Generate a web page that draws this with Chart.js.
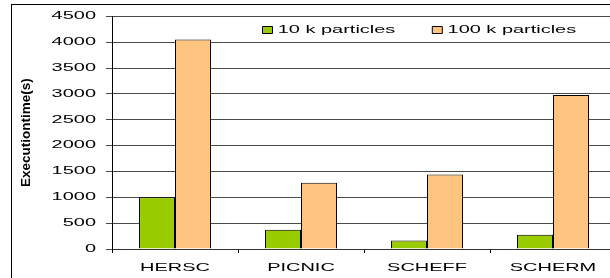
<!DOCTYPE html>
<html>
<head>
<meta charset="utf-8">
<script src="https://cdn.jsdelivr.net/npm/chart.js@4/dist/chart.umd.min.js"></script>
<style>
html, body { margin: 0; padding: 0; background: #fff; overflow: hidden; width: 610px; height: 278px; }
#wrap { position: absolute; left: 0; top: 0; width: 630px; height: 278px; }
</style>
</head>
<body>
<div id="wrap"><canvas id="c"></canvas></div>
<script>
// ---- data ----
const categories = ['HERSC', 'PICNIC', 'SCHEFF', 'SCHERM'];
const seriesNames = ['10 k particles', '100 k particles'];
const particles10k = [1000, 370, 165, 275];
const particles100k = [4050, 1280, 1440, 2980];
const yTickValues = [0, 500, 1000, 1500, 2000, 2500, 3000, 3500, 4000, 4500];
const yTickLabels = ['0', '500', '1000', '1500', '2000', '2500', '3000', '3500', '4000', '4500'];
const yAxisTitle = 'Executiontime(s)';

// ---- look ----
const TEXT_STRETCH = 1.9;     // reference text is horizontally widened
const LEGEND_PAD = 37;
const LEGEND_LEFT = 262.5 - LEGEND_PAD;
const LEGEND_ROW_TOP = 24.75;

Chart.defaults.font.family = '"Liberation Sans", Arial, sans-serif';
Chart.defaults.font.size = 10.5;
Chart.defaults.color = '#000';

const stretchText = {
  id: 'stretchText',
  beforeInit(chart) {
    const ctx = chart.ctx;
    const nativeFill = ctx.fillText.bind(ctx);
    const nativeMeasure = ctx.measureText.bind(ctx);
    ctx.fillText = function (t, x, y, mw) {
      const m = ctx.getTransform();
      if (Math.abs(m.b) > 1e-6 || Math.abs(m.c) > 1e-6) {
        return mw === undefined ? nativeFill(t, x, y) : nativeFill(t, x, y, mw);
      }
      ctx.save();
      ctx.translate(x, y);
      ctx.scale(TEXT_STRETCH, 1);
      if (mw === undefined) nativeFill(t, 0, 0); else nativeFill(t, 0, 0, mw / TEXT_STRETCH);
      ctx.restore();
    };
    ctx.measureText = function (t) {
      const r = nativeMeasure(t);
      return {
        width: r.width * TEXT_STRETCH,
        actualBoundingBoxAscent: r.actualBoundingBoxAscent,
        actualBoundingBoxDescent: r.actualBoundingBoxDescent,
        actualBoundingBoxLeft: r.actualBoundingBoxLeft * TEXT_STRETCH,
        actualBoundingBoxRight: r.actualBoundingBoxRight * TEXT_STRETCH
      };
    };
  }
};

const legendInside = {
  id: 'legendInside',
  beforeLayout(chart) {
    const lg = chart.legend;
    if (lg && !lg._insidePatched) {
      const fit = lg.fit.bind(lg);
      lg.fit = function () { fit(); this.height = 0; };
      lg._insidePatched = true;
    }
  },
  afterLayout(chart) {
    const lg = chart.legend;
    if (!lg) return;
    lg.left = LEGEND_LEFT;
    lg.right = chart.chartArea.right;
    lg.width = lg.right - lg.left;
    lg.top = LEGEND_ROW_TOP - LEGEND_PAD;
    lg.bottom = lg.top + 100;
    lg.height = 100;
  }
};

const outerFrame = {
  id: 'outerFrame',
  beforeDraw(chart) {
    const ctx = chart.ctx;
    ctx.save();
    ctx.strokeStyle = '#000';
    ctx.lineWidth = 1;
    ctx.strokeRect(11.5, 4.5, 800, 400);
    ctx.restore();
  }
};

new Chart(document.getElementById('c'), {
  type: 'bar',
  data: {
    labels: categories,
    datasets: [
      { label: seriesNames[0], data: particles10k, backgroundColor: '#99CC00', borderColor: '#000', borderWidth: 1 },
      { label: seriesNames[1], data: particles100k, backgroundColor: '#FFC47F', borderColor: '#000', borderWidth: 1 }
    ]
  },
  options: {
    responsive: true,
    maintainAspectRatio: false,
    animation: false,
    events: [],
    datasets: { bar: { categoryPercentage: 0.571, barPercentage: 1 } },
    layout: { padding: { top: 15, left: 0, right: 14, bottom: 0 } },
    plugins: {
      legend: {
        position: 'top',
        align: 'start',
        labels: { boxWidth: 10, boxHeight: 7, padding: LEGEND_PAD, color: '#000', font: { size: 10.5 } }
      },
      tooltip: { enabled: false }
    },
    scales: {
      x: {
        grid: { display: true, drawOnChartArea: false, drawTicks: true, tickLength: 4, color: '#000', offset: true },
        border: { display: true, color: '#333', width: 1 },
        ticks: { padding: 9, color: '#000', font: { size: 10.5 }, maxRotation: 0, autoSkip: false },
        afterFit(s) { s.height = 29; }
      },
      y: {
        min: 0,
        max: 4500,
        afterBuildTicks(s) { s.ticks = yTickValues.map(v => ({ value: v })); },
        ticks: {
          padding: 10, color: '#000', font: { size: 10.5 },
          callback(value) { const i = yTickValues.indexOf(value); return i >= 0 ? yTickLabels[i] : ''; }
        },
        grid: { color: '#4a4a4a', tickLength: 6, drawTicks: true },
        border: { display: true, color: '#000', width: 1 },
        title: { display: true, text: yAxisTitle, color: '#000', font: { size: 13.5, weight: 'bold' }, padding: { top: 18, bottom: 0 } },
        afterFit(s) { s.width = 112; }
      }
    }
  },
  plugins: [stretchText, legendInside, outerFrame]
});
</script>
</body>
</html>
